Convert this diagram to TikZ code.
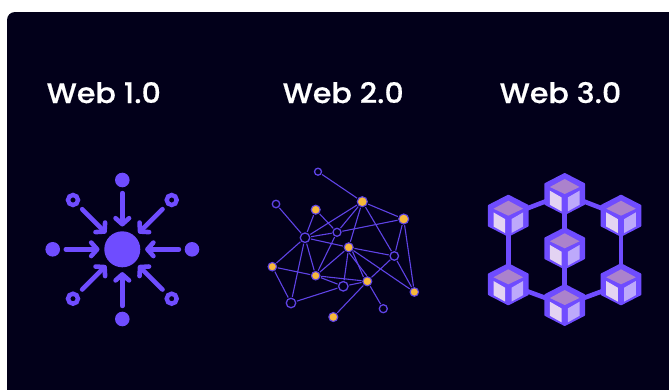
\documentclass[tikz,border=0pt]{standalone}
\usepackage{fontspec}
\setmainfont{Poppins Medium}[FakeStretch=1.07,FakeBold=0.5]
\usetikzlibrary{arrows.meta}
\definecolor{bgdark}{HTML}{02001A}
\definecolor{vio}{HTML}{6F4CFF}
\definecolor{edgeviolet}{HTML}{5F43E6}
\definecolor{amber}{HTML}{F6B93B}
\definecolor{ctop}{HTML}{AB82CC}
\definecolor{cleft}{HTML}{E3D3F2}
\definecolor{cright}{HTML}{BDA9FB}
\tikzset{
 x=1pt,y=-1pt,
 title/.style={anchor=base west,inner sep=0pt,text=white,font=\fontsize{28.2}{28.2}\selectfont},
 dotnode/.style={circle,fill=vio,inner sep=0pt,outer sep=0pt,minimum size=14.6pt},
 ringnode/.style={circle,draw=vio,line width=4.4pt,fill=none,inner sep=0pt,outer sep=2.2pt,minimum size=10pt},
 hubnode/.style={circle,fill=vio,inner sep=0pt,outer sep=0pt,minimum size=36pt},
 inarrow/.style={draw=vio,line width=4.6pt,line cap=round,shorten <=5.8pt,shorten >=4.8pt,
   -{Straight Barb[length=6pt,width=13.5pt,line width=4.6pt,round]}},
 filled/.style={circle,draw=edgeviolet,line width=1.1pt,fill=amber,inner sep=0pt,outer sep=.5pt,minimum size=#1},
 hollow/.style={circle,draw=edgeviolet,line width=1.3pt,fill=none,inner sep=0pt,outer sep=.6pt,minimum size=#1},
 gedge/.style={draw=edgeviolet,line width=1.1pt,shorten <=.8pt,shorten >=.8pt},
 hexfill/.style={fill=vio,draw=vio,line width=2pt,line join=round},
 hubpt/.style={inner sep=0pt,outer sep=0pt,minimum size=0pt},
 clink/.style={draw=vio,line width=4.6pt},
}
\begin{document}
\begin{tikzpicture}
\useasboundingbox (0,0) rectangle (669,389);
\fill[white] (0,0) rectangle (669,389);
\fill[bgdark,rounded corners=8pt] (7,12) rectangle (700,420);

\node[title] (t1) at (46.5,103) {Web 1.0};
\node[title] (t2) at (282.5,103) {Web 2.0};
\node[title] (t3) at (499.5,103) {Web 3.0};

% Web 1.0
\node[hubnode] (hub) at (122.3,249.3) {};
\node[dotnode] (a1) at (122.3,180) {};
\node[dotnode] (a2) at (52.7,249.3) {};
\node[dotnode] (a3) at (192,249.3) {};
\node[dotnode] (a4) at (122.3,319) {};
\node[ringnode] (b1) at (73,200) {};
\node[ringnode] (b2) at (171.7,200) {};
\node[ringnode] (b3) at (73,298.7) {};
\node[ringnode] (b4) at (171.7,298.7) {};
\foreach \s in {a1,a2,a3,a4,b1,b2,b3,b4}{\draw[inarrow] (\s) -- (hub);}

% Web 2.0
\node[hollow=7pt] (n1) at (318,171.7) {};
\node[filled=10pt] (n2) at (362.3,201.7) {};
\node[filled=10pt] (n3) at (403.7,219) {};
\node[hollow=7.5pt] (n4) at (276,204) {};
\node[filled=9pt] (n5) at (315.7,209.7) {};
\node[hollow=8pt] (n6) at (337,232.3) {};
\node[hollow=9.5pt] (n7) at (305,237.7) {};
\node[filled=9pt] (n8) at (348.7,247.3) {};
\node[hollow=8.5pt] (n9) at (394.3,256) {};
\node[filled=8.5pt] (n10) at (272.3,266.7) {};
\node[filled=8.5pt] (n11) at (315.7,275.7) {};
\node[filled=9pt] (n12) at (367.3,281.3) {};
\node[hollow=9.5pt] (n13) at (343.3,286.3) {};
\node[filled=8.5pt] (n14) at (414.3,292) {};
\node[hollow=9.5pt] (n15) at (291,303) {};
\node[hollow=8pt] (n16) at (383.3,308.7) {};
\node[filled=9pt] (n17) at (333.3,317) {};
\foreach \a/\b in {n1/n2,n2/n3,n2/n6,n2/n7,n2/n8,n2/n9,n3/n6,n3/n9,n3/n14,n4/n7,n5/n7,n5/n6,n6/n7,n6/n11,n7/n8,n7/n10,n7/n11,n7/n15,n8/n9,n8/n11,n8/n13,n8/n14,n9/n12,n9/n14,n10/n11,n10/n15,n11/n12,n11/n13,n13/n12,n13/n15,n12/n16,n12/n17}{\draw[gedge] (\a) -- (\b);}
\draw[gedge] (n8.south) -- (n12.north);
\draw[gedge] (n8.south east) -- (n12.north west);

% Web 3.0
\foreach \i/\x/\y in {1/564.7/194,2/508.3/215.7,3/621/215.7,4/564.7/248.3,5/508.3/284.3,6/621/284.3,7/564.7/305}{
  \node[hubpt] (c\i) at (\x,\y) {};
}
\foreach \a/\b in {c1/c2,c1/c3,c1/c4,c4/c7,c2/c5,c3/c6,c5/c7,c6/c7}{\draw[clink] (\a) -- (\b);}
\foreach \i in {1,...,7}{
  \begin{scope}[shift={(c\i)}]
  \path[hexfill] (0,-20) -- (19.4,-10) -- (19.4,10) -- (0,20) -- (-19.4,10) -- (-19.4,-10) -- cycle;
  \fill[ctop] (0,-15) -- (14.8,-7) -- (0,0) -- (-14.8,-7) -- cycle;
  \fill[cleft] (-14.8,-3.3) -- (-3.2,3.4) -- (-3.2,17.3) -- (-14.8,10.8) -- cycle;
  \fill[cright] (14.8,-3.3) -- (3.2,3.4) -- (3.2,17.3) -- (14.8,10.8) -- cycle;
  \end{scope}
}
\end{tikzpicture}
\end{document}
